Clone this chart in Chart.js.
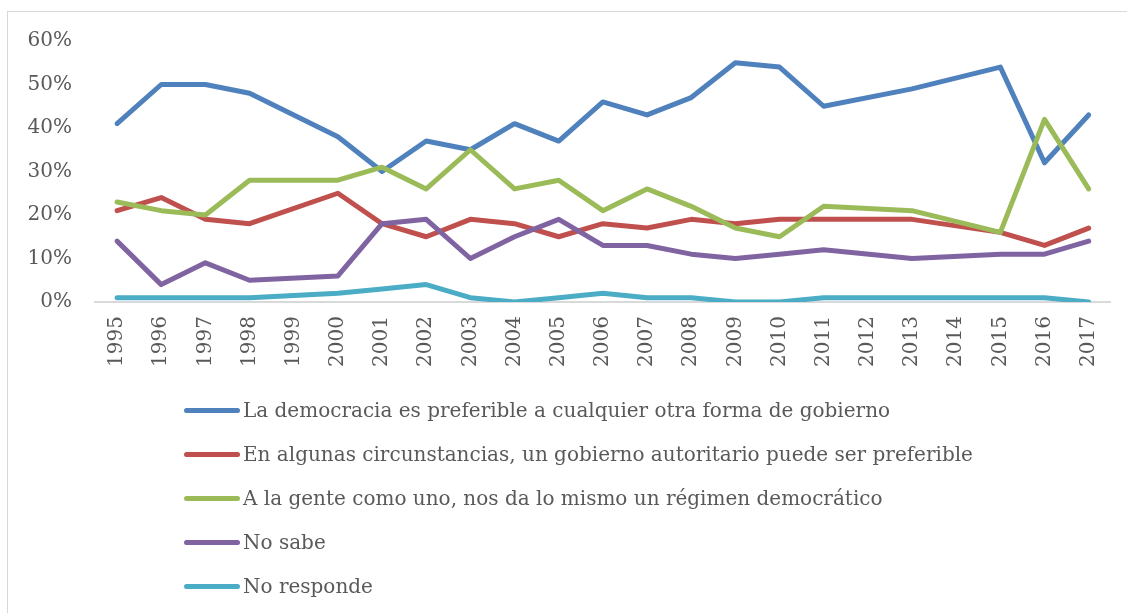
<!DOCTYPE html>
<html>
<head>
<meta charset="utf-8">
<script src="https://cdn.jsdelivr.net/npm/chart.js@4.4.1/dist/chart.umd.min.js"></script>
<style>
  html, body { margin: 0; padding: 0; background: #fff; }
  body { width: 1127px; height: 613px; position: relative; overflow: hidden; font-family: "DejaVu Serif", serif; }
  #frame { position: absolute; left: 7px; top: 11px; width: 1125px; height: 640px; border: 1px solid #d9d9d9; box-sizing: border-box; }
  #wrap { position: absolute; left: 0; top: 0; width: 1127px; height: 400px; }
  #legend { position: absolute; left: 184px; top: 388px; color: #595959; font-size: 20px; }
  .row { height: 44px; display: flex; align-items: center; white-space: nowrap; }
  .sw { display: inline-block; width: 56px; height: 5px; border-radius: 3px; margin-right: 3px; }
</style>
</head>
<body>
<div id="frame"></div>
<div id="wrap"><canvas id="c"></canvas></div>
<div id="legend"></div>
<script>
const years = ["1995","1996","1997","1998","1999","2000","2001","2002","2003","2004","2005","2006","2007","2008","2009","2010","2011","2012","2013","2014","2015","2016","2017"];
const yTicks = [0, 10, 20, 30, 40, 50, 60];
const seriesNames = [
  "La democracia es preferible a cualquier otra forma de gobierno",
  "En algunas circunstancias, un gobierno autoritario puede ser preferible",
  "A la gente como uno, nos da lo mismo un régimen democrático",
  "No sabe",
  "No responde"
];
const seriesColors = ["#4F81BD", "#C0504D", "#9BBB59", "#8064A2", "#4BACC6"];
// null = year without survey (line connects across it)
const democracia   = [41, 50, 50, 48, null, 38, 30, 37, 35, 41, 37, 46, 43, 47, 55, 54, 45, null, 49, null, 54, 32, 43];
const autoritario  = [21, 24, 19, 18, null, 25, 18, 15, 19, 18, 15, 18, 17, 19, 18, 19, 19, null, 19, null, 16, 13, 17];
const daLoMismo    = [23, 21, 20, 28, null, 28, 31, 26, 35, 26, 28, 21, 26, 22, 17, 15, 22, null, 21, null, 16, 42, 26];
const noSabe       = [14, 4, 9, 5, null, 6, 18, 19, 10, 15, 19, 13, 13, 11, 10, 11, 12, null, 10, null, 11, 11, 14];
const noResponde   = [1, 1, 1, 1, null, 2, 3, 4, 1, 0, 1, 2, 1, 1, 0, 0, 1, null, 1, null, 1, 1, 0];
const seriesValues = [democracia, autoritario, daLoMismo, noSabe, noResponde];

const FONT = "'DejaVu Serif', serif";
const datasets = seriesValues.map((vals, i) => ({
  label: seriesNames[i],
  data: vals,
  borderColor: seriesColors[i],
  backgroundColor: seriesColors[i],
  borderWidth: 5,
  pointRadius: 0,
  pointHoverRadius: 0,
  tension: 0,
  spanGaps: true,
  fill: false,
  borderJoinStyle: 'round',
  borderCapStyle: 'round',
  order: seriesValues.length - i
}));

new Chart(document.getElementById('c'), {
  type: 'line',
  data: { labels: years, datasets },
  options: {
    responsive: true,
    maintainAspectRatio: false,
    animation: false,
    layout: { padding: { left: 0, right: 15, top: 41, bottom: 0 } },
    plugins: { legend: { display: false }, tooltip: { enabled: false } },
    scales: {
      x: {
        offset: true,
        grid: { display: false, drawTicks: false },
        border: { display: true, color: '#d9d9d9', width: 2 },
        ticks: {
          color: '#595959',
          font: { family: FONT, size: 20 },
          minRotation: 90, maxRotation: 90,
          padding: 14,
          autoSkip: false
        },
        afterFit: (s) => { s.height = 98; }
      },
      y: {
        min: 0, max: 60,
        grid: { display: false, drawTicks: false },
        border: { display: false },
        afterBuildTicks: (s) => { s.ticks = yTicks.map(v => ({ value: v })); },
        ticks: {
          color: '#595959',
          font: { family: FONT, size: 20 },
          padding: 23,
          callback: (v) => v + '%'
        },
        afterFit: (s) => { s.width = 95; }
      }
    }
  }
});

const lg = document.getElementById('legend');
seriesNames.forEach((name, i) => {
  const row = document.createElement('div');
  row.className = 'row';
  const sw = document.createElement('span');
  sw.className = 'sw';
  sw.style.background = seriesColors[i];
  const tx = document.createElement('span');
  tx.textContent = name;
  row.appendChild(sw);
  row.appendChild(tx);
  lg.appendChild(row);
});
</script>
</body>
</html>
